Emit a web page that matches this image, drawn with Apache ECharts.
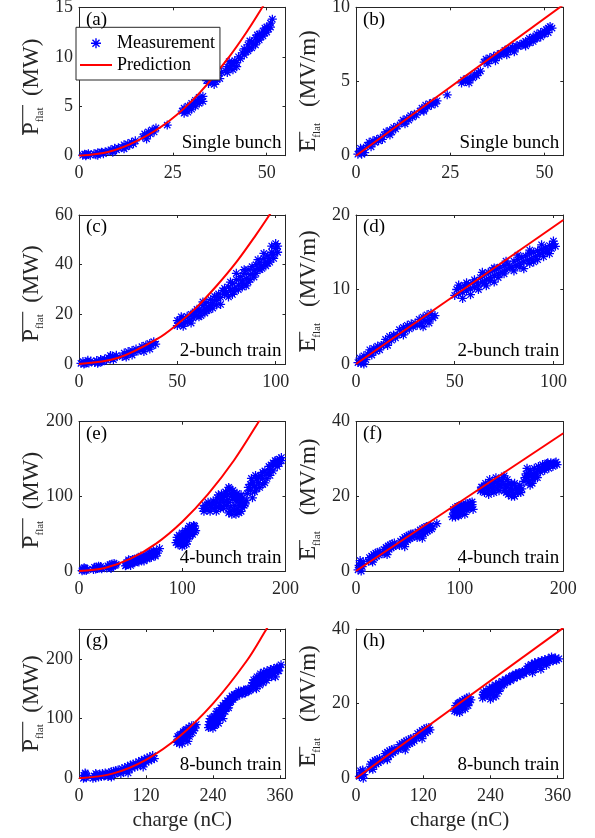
<!DOCTYPE html>
<html><head><meta charset="utf-8">
<script src="https://cdn.jsdelivr.net/npm/echarts@6/dist/echarts.min.js"></script>
<style>html,body{margin:0;padding:0;background:#fff}#c{width:595px;height:838px}</style>
</head><body><div id="c"></div>
<script>
// ---------- data ----------
const panelLetters = ['(a)','(b)','(c)','(d)','(e)','(f)','(g)','(h)'];
const panelTitles = ['Single bunch','Single bunch','2-bunch train','2-bunch train','4-bunch train','4-bunch train','8-bunch train','8-bunch train'];
const xLabel = 'charge (nC)';

const xTicks1 = [0,25,50], xTicks2 = [0,50,100], xTicks4 = [0,100,200], xTicks8 = [0,120,240,360];
const yTicksA = [0,5,10,15], yTicksB = [0,5,10], yTicksC = [0,20,40,60], yTicksD = [0,10,20];
const yTicksE = [0,100,200], yTicksF = [0,20,40], yTicksG = [0,100,200], yTicksH = [0,20,40];

const measA = [[1,0.05],[1.5,0.15],[2,0.1],[2.5,0.2],[3,0.05],[1.8,0],
[4,0.2],[4.5,0.1],[5,0.3],[5.5,0.25],[6,0.35],[6.5,0.2],[7,0.4],[5,0.05],
[8,0.45],[8.5,0.6],[9,0.5],[9.5,0.75],[10,0.6],[10.5,0.8],[9,0.35],
[11.5,0.85],[12,1.1],[12.5,0.9],[13,1.2],[13.5,1.05],[14,1.35],[14.5,1.2],[15,1.5],[12,0.7],
[17,1.9],[17.5,2.2],[18,2.0],[18.5,2.4],[19,2.2],[19.5,2.6],[20,2.4],[20.5,2.8],[18,1.7],
[23.5,3.1],
[27.5,4.5],[28,4.8],[28.5,4.6],[29,5.0],[29.5,4.9],[30,5.3],[30.5,5.1],[31,5.6],[31.5,5.4],[32,5.9],[32.5,5.7],[33,6.0],[29,4.4],[31,5.0],[28,4.3],[30,4.7],[32,5.3],[33,5.5],
[34,7.6],[34.5,7.3],[35,7.7],[35.5,7.4],[36,7.9],[36.5,7.5],[37,8.1],[37.5,7.8],[38,8.4],[36,7.2],
[39,8.6],[39.5,9.0],[40,8.8],[40.5,9.3],[41,9.1],[41.5,9.6],[42,9.4],[42.5,10.0],[43,9.8],[40,9.5],[41,8.7],[39.5,8.4],[42,9.0],
[43.5,10.4],[44,10.8],[44.5,10.5],[45,11.2],[45.5,10.9],[46,11.5],[46.5,11.3],[47,11.9],[47.5,11.6],[48,12.3],[48.5,12.0],[49,12.6],[49.5,12.4],[50,13.0],[50.5,12.8],[51,13.4],[51.5,13.8],[45,10.6],[47,11.2],[49,12.1],
[44,10.2],[46,10.9],[48,11.7],[50,12.5],[51,13.0],[45.5,11.6],[47.5,12.2],[49.5,12.9]];
const predA = [[0,0],[8,0.4],[16,1.6],[24,3.5],[32,6.3],[40,10.0],[45,12.7],[49,15.1],[52,17.0]];

const measB = [[0.5,0.1],[1,0.3],[1.5,0.1],[2,0.5],[2.3,0.2],[1.2,0.5],
[3,0.7],[3.5,0.9],[4,0.8],[4.5,1.0],[5,0.9],[5.5,1.1],[6,1.0],[6.5,1.2],[7,1.1],[4,0.6],
[7.5,1.4],[8,1.6],[8.5,1.5],[9,1.7],[9.5,1.6],[10,1.9],[10.5,1.8],[11,2.0],[9,1.4],
[12,2.2],[12.5,2.4],[13,2.3],[13.5,2.5],[14,2.4],[14.5,2.7],[15,2.6],[15.5,2.8],[16,2.75],[13,2.15],
[17,3.0],[17.5,3.2],[18,3.1],[18.5,3.4],[19,3.3],[19.5,3.5],[20,3.4],[20.5,3.6],[21,3.5],[21.5,3.7],[18,3.0],
[24.2,4.1],
[28,4.9],[28.5,5.1],[29,5.0],[29.5,5.2],[30,5.1],[30.5,5.3],[31,5.25],[31.5,5.5],[32,5.4],[32.5,5.6],[33,5.7],[30,4.9],
[34,6.3],[34.5,6.5],[35,6.4],[35.5,6.6],[36,6.5],[36.5,6.7],[37,6.6],[37.5,6.8],[38,6.7],[38.5,6.9],[35,6.2],[37,6.4],
[39,6.9],[39.5,7.1],[40,7.0],[40.5,7.2],[41,7.1],[41.5,7.3],[42,7.25],[42.5,7.4],[43,7.35],[43.5,7.5],[44,7.45],[40,6.8],[42,7.0],
[44.5,7.6],[45,7.7],[45.5,7.6],[46,7.9],[46.5,7.8],[47,8.0],[47.5,7.9],[48,8.2],[48.5,8.1],[49,8.3],[49.5,8.2],[50,8.4],[50.5,8.5],[51,8.6],[51.5,8.7],[46,7.6],[48,7.9],[50,8.2],
[45,7.4],[47,7.7],[49,8.0],[51,8.3],[52,8.6]];
const predB = [[0,0],[55,10.17]];

const measC = [[1,0.3],[2,1.0],[3,0.2],[4,0.8],[5,0.4],[6,1.2],[2.5,0],[4.5,1.5],
[8,0.6],[9,1.4],[10,0.8],[11,1.8],[12,1.2],[13,2.0],[9.5,0.3],[11.5,0.9],
[14,1.6],[15,2.6],[16,2.0],[17,3.2],[18,2.6],[19,3.5],[16,3.4],[17.5,1.8],
[22,3.0],[23,4.4],[24,3.8],[25,5.0],[26,4.2],[27,5.4],[28,4.8],[29,6.0],[30,5.2],[24,2.8],[27,3.6],
[31,5.6],[32,7.0],[33,6.2],[34,7.6],[35,6.8],[36,8.3],[37,7.4],[38,9.0],[39,8.0],[33,5.0],[36,6.0],
[50,15.5],[51,17.5],[52,16.2],[53,18.5],[54,16.8],[55,19.2],[56,17.5],[57,20.0],[58,18.5],[59,21.0],[60,19.5],[61,21.8],[53,15.2],[57,16.5],
[50,17.5],[52,19],[55,17],[58,20],[60,22],[61,19],
[62,21.0],[63,23.5],[64,22.2],[65,24.8],[66,23.0],[67,26.0],[68,24.5],[69,27.2],[70,25.5],[71,28.2],[72,26.8],[73,29.5],[74,28.0],[65,21.5],[70,23.8],[74,30.5],
[62,19.5],[64,20.5],[66,21.8],[68,22.5],[70,27],[72,24],[63,25],[67,23.5],
[75,28.8],[76,31.0],[77,29.5],[78,32.5],[79,30.5],[80,34.0],[81,31.8],[82,35.2],[83,33.5],[84,36.5],[85,34.5],[86,38.0],[87,36.0],[88,39.2],[78,28.0],[83,31.0],[86,33.0],
[76,27],[79,29],[81,30],[83,32.5],[85,31.5],[87,34],[89,35],[77,33],[80,36.5],[84,38],
[89,37.5],[90,40.0],[91,38.5],[92,41.0],[93,39.5],[94,42.5],[95,41.0],[96,43.5],[97,42.5],[98,45.0],[99,44.0],[100,46.5],[101,47.5],[92,38.0],[96,40.5],
[90,36.5],[93,38.5],[95,39.5],[97,41],[99,42.5],[101,45],[91,42],[94,44.5],[98,47.5],[100,48.5]];
const predC = [[0,0],[20,2.5],[40,10.2],[50,16],[60,23],[70,31.5],[80,41],[90,52],[97,60.2],[100,64]];

const measD = [[1,0.2],[2,0.8],[3,0.4],[4,1.1],[5,0.6],[2.5,0.1],[4,0],
[6,1.3],[7,1.9],[8,1.5],[9,2.1],[10,1.7],[11,2.4],[12,1.9],[13,2.5],[8,1.2],
[14,2.6],[15,3.3],[16,2.9],[17,3.7],[18,3.2],[19,3.9],[20,3.5],[16,2.5],
[21,3.9],[22,4.6],[23,4.1],[24,4.9],[25,4.4],[26,5.2],[27,4.7],[28,5.4],[29,5.0],[30,5.5],[24,3.9],
[31,5.2],[32,6.0],[33,5.5],[34,6.3],[35,5.8],[36,6.6],[37,6.0],[38,6.8],[39,6.2],[40,6.5],[34,5.0],[37,5.5],
[50,9.2],[51,10.0],[52,9.4],[53,10.3],[54,9.6],[55,10.5],[56,9.8],[57,10.7],[58,10.1],[59,10.9],[60,10.3],[61,11.0],[54,8.8],
[52,10.6],[56,10.9],[60,11.3],[58,9.3],
[62,10.6],[63,11.6],[64,11.0],[65,12.0],[66,11.3],[67,12.3],[68,11.6],[69,12.6],[70,11.9],[71,12.8],[72,12.1],[73,13.0],[74,12.3],[75,13.2],[76,12.6],[77,13.4],[78,12.9],[66,10.5],[70,11.0],
[62,10.0],[65,10.8],[68,11.2],[72,11.6],[75,12.1],[64,12.3],[70,12.9],[76,13.8],
[79,13.0],[80,13.8],[81,13.2],[82,14.0],[83,13.4],[84,14.3],[85,13.7],[86,14.5],[87,13.9],[88,14.8],[89,14.1],[90,15.0],[91,14.4],[92,15.2],[93,14.7],[94,15.4],[95,15.0],[96,15.6],[97,15.2],[98,15.9],[99,15.5],[100,16.1],[101,15.8],[85,12.8],[90,13.7],
[80,12.5],[83,13.0],[88,13.5],[92,14.0],[95,14.4],[98,14.8],[82,14.6],[88,15.3],[94,16.0],[100,16.5]];
const predD = [[0,0],[105,19.33]];

const measE = [[3,0.5],[4,3.0],[5,1.0],[6,3.5],[7,0.8],[8,2.5],[5,4.5],
[14,2.0],[15,5.0],[16,2.8],[17,5.5],[18,3.5],[19,6.5],[20,4.0],[21,6.0],[22,3.0],
[27,4.0],[28,7.0],[29,5.0],[30,8.5],[31,6.0],[32,9.5],[33,7.0],[34,10.0],[35,7.5],[36,9.0],[31,3.5],
[45,7.0],[46,11.0],[47,9.0],[48,13.0],[49,10.0],[50,14.0],[51,11.5],[52,15.5],[53,12.0],[54,16.0],[55,13.0],[56,17.0],[57,14.5],[50,7.5],
[46,8],[50,10],[54,11],[48,15],[52,13],[56,14],
[58,14.0],[59,18.0],[60,15.5],[61,19.0],[62,16.0],[63,20.0],[64,17.5],[65,21.0],[66,18.0],[67,22.0],[68,19.5],[69,23.0],[70,20.0],[71,24.5],[72,21.0],[73,25.5],[74,22.5],[75,27.0],[76,24.0],[78,30.0],[63,13.5],
[58,12],[62,15],[66,16],[70,18],[74,20],[60,20],[68,24],[72,27],
[94,38.0],[95,45.0],[96,41.0],[97,48.0],[98,36.0],[99,44.0],[100,51.0],[101,40.0],[102,47.0],[103,54.0],[104,43.0],[105,50.0],[106,57.0],[107,46.0],[108,53.0],[109,59.0],[110,49.0],[111,56.0],[112,60.0],[113,54.0],[100,33.0],[104,36.0],
[96,35],[98,42],[100,38],[100,46],[102,43],[104,50],[105,40],[106,53],[108,48],[110,55],[112,52],[102,35],[107,60],[111,61],
[120,84.0],[122,88.0],[124,82.0],[126,90.0],[128,85.0],[130,94.0],[132,88.0],[134,98.0],[136,90.0],[138,103.0],[140,92.0],[142,106.0],[144,96.0],[146,110.0],[148,100.0],[150,104.0],[152,95.0],[154,100.0],[156,92.0],[158,98.0],[160,88.0],[133,80.0],[140,84.0],[145,78.0],[150,82.0],[155,78.0],[158,85.0],[162,95.0],[137,96.0],[143,88.0],
[121,80],[123,86],[125,92],[127,80],[129,90],[131,84],[133,92],[135,86],[135,102],[137,84],[139,98],[141,88],[141,100],[143,104],[145,92],[145,112],[147,104],[147,86],[149,96],[149,108],[151,88],[151,100],[153,82],[153,104],[155,88],[155,96],[157,102],[157,80],[159,92],[161,90],[148,76],[152,76],[146,80],
[163,104.0],[164,112.0],[166,108.0],[168,98.0],[168,118.0],[170,114.0],[172,122.0],[174,118.0],[176,128.0],[178,124.0],[180,134.0],[182,130.0],[184,140.0],[186,136.0],[188,145.0],[190,142.0],[192,148.0],[194,150.0],[196,148.0],[185,128.0],[175,112.0],[180,118.0],
[166,116],[170,106],[172,110],[174,126],[178,116],[178,132],[182,124],[184,132],[186,142],[188,134],[190,148],[192,140],[194,144],[196,152],[167,124],[171,128]];
const predE = [[0,0],[25,4.1],[50,16.5],[75,37],[100,66],[125,103],[150,148],[174,200],[185,226]];

const measF = [[2,0.3],[3,1.5],[4,0.8],[5,2.0],[6,1.2],[7,2.5],[5,0],[4,2.8],
[12,2.6],[13,3.6],[14,3.0],[15,4.0],[16,3.3],[17,4.4],[18,3.6],[19,4.8],[20,4.0],[21,5.0],[22,4.3],[23,5.2],[16,2.4],
[26,4.6],[27,5.8],[28,5.0],[29,6.3],[30,5.4],[31,6.7],[32,5.8],[33,7.0],[34,6.2],[35,7.3],[36,6.5],[37,7.5],[38,6.8],[30,4.4],
[42,6.8],[43,8.0],[44,7.2],[45,8.5],[46,7.5],[47,9.0],[48,7.8],[49,9.3],[50,8.3],[51,9.6],[52,8.7],[53,9.9],[54,9.0],[55,10.0],[56,9.3],[57,10.1],[47,6.5],
[59,9.0],[60,10.5],[61,9.3],[62,11.0],[63,9.6],[64,11.3],[65,10.0],[66,11.6],[67,10.3],[68,11.9],[69,10.7],[70,12.0],[71,11.0],[72,12.2],[73,11.3],[74,11.8],[78,12.7],[64,8.8],
[93,14.5],[94,16.5],[95,15.0],[96,17.0],[97,15.5],[98,17.3],[99,14.8],[100,16.5],[101,15.5],[102,17.8],[103,16.0],[104,17.5],[105,15.2],[106,17.0],[107,16.3],[108,18.0],[109,16.8],[110,18.3],[111,17.0],[112,17.8],[113,16.5],
[94,15.5],[96,14.5],[98,16.0],[100,15.2],[102,16.8],[104,16.5],[106,18.0],[108,17.0],[110,17.5],[112,18.5],[96,16],[100,17.5],
[120,21.5],[122,22.5],[124,21.0],[126,23.0],[128,21.5],[130,23.5],[132,22.0],[134,24.0],[136,22.3],[138,24.5],[140,22.8],[142,25.0],[144,23.0],[146,24.5],[148,21.5],[150,23.5],[152,20.5],[154,22.5],[156,21.0],[158,23.0],[160,22.0],[145,21.0],[150,20.0],[138,21.5],
[121,22.5],[123,21.5],[125,23.5],[127,22.0],[129,24.5],[131,22.5],[133,23.0],[135,25.0],[137,23.5],[139,23.0],[141,24.0],[143,25.5],[145,22.5],[147,23.5],[149,22.0],[151,21.5],[153,23.5],[155,21.5],[157,22.0],[159,21.0],[147,20.5],[153,20.0],[143,21.5],[128,20.5],[133,21.0],
[162,24.0],[164,26.0],[166,25.0],[168,27.0],[170,24.5],[172,27.5],[174,26.0],[176,28.0],[178,26.5],[180,28.5],[182,27.0],[184,28.8],[186,27.5],[188,29.0],[190,28.0],[192,29.0],[194,28.5],[168,23.0],[175,25.0],[165,27.5],
[163,25],[167,26],[169,25.5],[171,26.0],[173,25.0],[175,27.0],[177,27.5],[179,27.5],[181,28.0],[183,27.5],[185,29],[187,28.5],[189,28.5],[191,28.5],[193,29.2],[170,23.5],[166,23.8]];
const predF = [[0,0],[200,36.9]];

const measG = [[8,0],[9,5],[10,2],[12,7],[13,1],[14,4],[11,9],
[25,0],[27,4],[30,1],[32,6],[35,2],[37,7],[40,3],[42,8],[45,4],[47,9],[30,8],
[52,3],[54,9],[56,5],[58,11],[60,6],[62,12],[64,8],[66,13],[68,9],[70,14],[58,2],
[75,8],[77,16],[80,11],[82,18],[85,13],[87,20],[90,15],[92,22],[95,17],[97,24],[100,19],[102,25],[88,9],
[105,20],[107,28],[110,23],[112,30],[115,25],[117,32],[120,27],[122,34],[125,29],[127,36],[130,31],[132,38],[135,33],[115,19],
[175,60],[177,70],[180,64],[182,74],[185,67],[187,78],[190,70],[192,82],[195,74],[197,85],[200,78],[202,88],[205,80],[208,84],[185,58],[195,62],[210,90],
[177,62],[180,72],[183,68],[186,74],[188,64],[190,80],[193,72],[196,80],[198,70],[200,84],[203,76],[206,86],[180,58],[190,66],
[232,85],[234,95],[236,88],[238,100],[240,90],[242,104],[244,94],[246,108],[248,98],[250,112],[252,102],[254,118],[256,108],[258,122],[260,112],[262,126],[264,118],[266,130],[268,122],[270,134],[272,128],[274,138],[276,132],[278,140],[280,136],[240,84],[250,92],[258,100],
[233,90],[235,100],[237,92],[239,95],[241,98],[243,88],[245,100],[247,112],[249,104],[251,106],[253,110],[255,114],[257,116],[259,118],[261,118],[263,122],[265,124],[267,126],[269,128],[271,130],[273,132],[275,136],[277,136],[279,140],[245,90],[235,86],[255,104],[262,112],[268,118],
[282,140],[285,143],[288,141],[291,145],[294,143],[297,147],[300,145],[303,150],[306,148],
[283,137],[286,146],[289,144],[292,141],[295,148],[298,143],[301,148],[304,146],
[310,155],[313,165],[316,158],[319,170],[322,162],[325,175],[328,166],[331,178],[334,168],[337,180],[340,172],[343,182],[346,175],[349,184],[352,178],[355,186],[358,180],[362,190],[318,150],[330,160],[345,170],[352,170],
[311,160],[314,160],[317,166],[320,160],[323,168],[326,170],[329,172],[332,172],[335,175],[338,176],[341,178],[344,177],[347,180],[350,180],[353,182],[356,180],[359,186],[312,150],[324,156],[336,164]];
const predG = [[0,0],[60,7.8],[120,31],[180,70],[240,125],[300,196],[336,250],[350,271]];

const measH = [[6,0.5],[8,2.0],[10,0.8],[12,2.2],[14,1.0],[9,1.5],[13,0],
[24,2.5],[26,3.8],[28,3.0],[30,4.3],[32,3.5],[34,4.8],[36,3.8],[38,5.0],[40,4.2],[42,5.3],[44,4.6],[30,2.4],
[50,5.2],[52,6.6],[54,5.6],[56,7.0],[58,6.0],[60,7.4],[62,6.4],[64,7.7],[66,6.8],[68,7.9],[70,7.2],[56,5.0],
[76,7.8],[78,9.0],[80,8.0],[82,9.3],[84,8.3],[86,9.7],[88,8.7],[90,10.0],[92,9.0],[94,10.3],[96,9.3],[98,10.6],[100,9.6],[102,10.8],[104,10.0],[88,7.6],
[108,10.8],[110,12.0],[112,11.2],[114,12.4],[116,11.5],[118,12.8],[120,11.8],[122,13.2],[124,12.2],[126,13.5],[128,12.6],[130,13.6],[132,13.0],[118,10.6],
[176,18.0],[178,19.5],[180,18.5],[182,20.0],[184,18.8],[186,20.4],[188,19.2],[190,20.8],[192,19.6],[194,21.2],[196,20.0],[198,21.5],[200,20.3],[202,21.8],[205,21.0],[185,17.6],[195,18.6],
[178,18.8],[181,19.5],[184,20.2],[187,19.8],[190,19.6],[193,20.4],[196,21.0],[199,20.8],[202,20.5],[180,17.8],[190,18.5],[200,19.5],
[226,21.5],[228,23.0],[230,22.0],[232,23.5],[235,22.2],[238,24.0],[240,22.5],[243,24.5],[246,23.0],[249,25.0],[252,23.5],[255,25.5],[258,24.2],[261,26.0],[264,25.0],[267,26.5],[240,21.2],[250,22.0],
[227,22.5],[231,22.8],[234,23.0],[237,23.2],[241,23.5],[244,24.0],[247,24.2],[251,24.6],[254,24.8],[257,25.0],[260,25.3],[263,25.8],[266,25.7],[245,21.8],[255,23.3],
[270,25.8],[273,27.0],[276,26.2],[279,27.5],[282,26.8],[285,28.0],[288,27.2],[291,28.3],[294,27.6],[297,28.6],[300,28.0],
[271,26.5],[274,26.5],[277,27.2],[280,27.0],[283,27.5],[286,27.6],[289,28.0],[292,27.8],[295,28.3],[298,28.2],
[304,28.5],[307,30.0],[310,29.0],[313,30.5],[316,29.3],[319,31.0],[322,29.8],[325,31.2],[328,30.2],[331,31.5],[334,30.5],[337,31.8],[340,31.0],[343,32.0],[346,31.2],[349,32.5],[352,31.5],[356,32.2],[362,32.0],[315,28.3],[330,29.2],
[305,29.3],[308,29.5],[311,29.8],[314,30.0],[317,30.2],[320,30.5],[323,30.5],[326,30.8],[329,31.0],[332,31.0],[335,31.2],[338,31.2],[341,31.5],[344,31.6],[347,31.8],[350,32.0],[354,31.8],[358,31.6],[320,29.2],[340,30.3]];
const predH = [[0,0],[370,40.3]];

// ---------- layout / style ----------
const FONT = '"Liberation Serif","Times New Roman",serif';
const AX = '#262626';
const STAR = 'path://M0 43L100 43L100 57L0 57Z M43 0L57 0L57 100L43 100Z M19.6 9.7L90.3 80.4L80.4 90.3L9.7 19.6Z M9.7 80.4L80.4 9.7L90.3 19.6L19.6 90.3Z';
const LINEICON = 'path://M0 0L160 0L160 10L0 10Z';

const colLeft = [79, 356], colWidth = [206.5, 207.3];
const rowTop = [7.3, 215, 421.7, 629], rowHeight = [148.4, 149, 149.3, 149.3];

const panels = [
  {meas: measA, pred: predA, xMax: 55,  xInt: 25,  xT: xTicks1, yMax: 15,  yInt: 5,   yT: yTicksA, smooth: true},
  {meas: measB, pred: predB, xMax: 55,  xInt: 25,  xT: xTicks1, yMax: 10,  yInt: 5,   yT: yTicksB, smooth: false},
  {meas: measC, pred: predC, xMax: 105, xInt: 50,  xT: xTicks2, yMax: 60,  yInt: 20,  yT: yTicksC, smooth: true},
  {meas: measD, pred: predD, xMax: 105, xInt: 50,  xT: xTicks2, yMax: 20,  yInt: 10,  yT: yTicksD, smooth: false},
  {meas: measE, pred: predE, xMax: 200, xInt: 100, xT: xTicks4, yMax: 200, yInt: 100, yT: yTicksE, smooth: true},
  {meas: measF, pred: predF, xMax: 200, xInt: 100, xT: xTicks4, yMax: 40,  yInt: 20,  yT: yTicksF, smooth: false},
  {meas: measG, pred: predG, xMax: 370, xInt: 120, xT: xTicks8, yMax: 250, yInt: 100, yT: yTicksG, smooth: true},
  {meas: measH, pred: predH, xMax: 370, xInt: 120, xT: xTicks8, yMax: 40,  yInt: 20,  yT: yTicksH, smooth: false}
];

// y-axis label placement (start of text along the axis, reading bottom-to-top)
const yLabStart = [135, 151.7, 341.7, 351.7, 548.3, 560, 751.7, 766.7];
const yLabX = [32.2, 309.2];

const grid = [], xAxis = [], yAxis = [], series = [], graphic = [];

function fmt(ticks) {
  return function (v) {
    const r = Math.round(v * 1000) / 1000;
    return ticks.indexOf(r) >= 0 ? String(r) : '';
  };
}
function baseAxis(i, min, max, interval, ticks, pos, showLabel, margin) {
  return {
    type: 'value', gridIndex: i, min: min, max: max, interval: interval, position: pos,
    axisLine: {show: true, onZero: false, lineStyle: {color: AX, width: 1}},
    axisTick: {show: true, inside: true, length: 3, lineStyle: {color: AX, width: 1}},
    splitLine: {show: false},
    axisLabel: {show: showLabel, formatter: fmt(ticks), color: AX, fontFamily: FONT, fontSize: 18, margin: margin}
  };
}

panels.forEach(function (p, i) {
  const row = Math.floor(i / 2), col = i % 2;
  const L = colLeft[col], W = colWidth[col], T = rowTop[row], H = rowHeight[row];
  grid.push({left: L, top: T, width: W, height: H, containLabel: false, outerBoundsMode: 'none'});

  const xb = baseAxis(i, 0, p.xMax, p.xInt, p.xT, 'bottom', true, 9);
  if (row === 3) {
    xb.name = xLabel; xb.nameLocation = 'middle'; xb.nameGap = 32;
    xb.nameTextStyle = {fontFamily: FONT, fontSize: 21, color: AX};
  }
  xAxis.push(xb);
  xAxis.push(baseAxis(i, 0, p.xMax, p.xInt, p.xT, 'top', false, 8));
  yAxis.push(baseAxis(i, 0, p.yMax, p.yInt, p.yT, 'left', true, 6));
  yAxis.push(baseAxis(i, 0, p.yMax, p.yInt, p.yT, 'right', false, 8));

  series.push({
    type: 'scatter', name: 'Measurement', xAxisIndex: 2 * i, yAxisIndex: 2 * i,
    data: p.meas, symbol: STAR, symbolSize: 9, clip: false,
    itemStyle: {color: '#0000ff', opacity: 1}, z: 3
  });
  series.push({
    type: 'line', name: 'Prediction', xAxisIndex: 2 * i, yAxisIndex: 2 * i,
    data: p.pred, smooth: p.smooth ? 0.35 : false, symbol: 'none', clip: true,
    lineStyle: {color: '#ff0000', width: 2}, itemStyle: {color: '#ff0000'}, z: 5
  });

  graphic.push({type: 'text', z: 50, style: {text: panelLetters[i], x: L + 7, y: T + 12.5,
    align: 'left', verticalAlign: 'middle', fill: '#000', fontFamily: FONT, fontSize: 19}});
  graphic.push({type: 'text', z: 50, style: {text: panelTitles[i], x: L + W - 4, y: T + H - 13,
    align: 'right', verticalAlign: 'middle', fill: '#000', fontFamily: FONT, fontSize: 19}});

  const isP = col === 0;
  const txt = isP ? '{m|P}{s|flat}{m|\u2002(MW)}' : '{m|E}{s|flat}{m|\u2002\u2009(MV/m)}';
  graphic.push({
    type: 'group', x: yLabX[col], y: yLabStart[i], rotation: Math.PI / 2, z: 50,
    children: [
      {type: 'text', style: {text: txt, x: 0, y: 0, align: 'left', verticalAlign: 'middle', fill: AX,
        fontFamily: FONT, fontSize: 23,
        rich: {
          m: {fontFamily: FONT, fontSize: 23, lineHeight: 26, fill: AX},
          s: {fontFamily: FONT, fontSize: 11, lineHeight: 18, verticalAlign: 'bottom', fill: AX}
        }}},
      {type: 'line', shape: {x1: 0, y1: -9.5, x2: isP ? 30 : 20, y2: -9.5}, style: {stroke: AX, lineWidth: 1.1}}
    ]
  });
});

const chart = echarts.init(document.getElementById('c'), null, {renderer: 'canvas', width: 595, height: 838});
chart.setOption({
  animation: false,
  backgroundColor: '#fff',
  grid: grid, xAxis: xAxis, yAxis: yAxis, series: series, graphic: graphic,
  legend: {
    orient: 'vertical', left: 76, top: 27.3, itemWidth: 32, itemHeight: 10, itemGap: 3.7,
    padding: [7, 5, 6, 4], borderColor: AX, borderWidth: 1, borderRadius: 0, backgroundColor: '#fff',
    selectedMode: false, z: 20,
    textStyle: {fontFamily: FONT, fontSize: 18, color: '#000', lineHeight: 18},
    data: [{name: 'Measurement', icon: STAR}, {name: 'Prediction', icon: LINEICON}]
  }
});
</script></body></html>
